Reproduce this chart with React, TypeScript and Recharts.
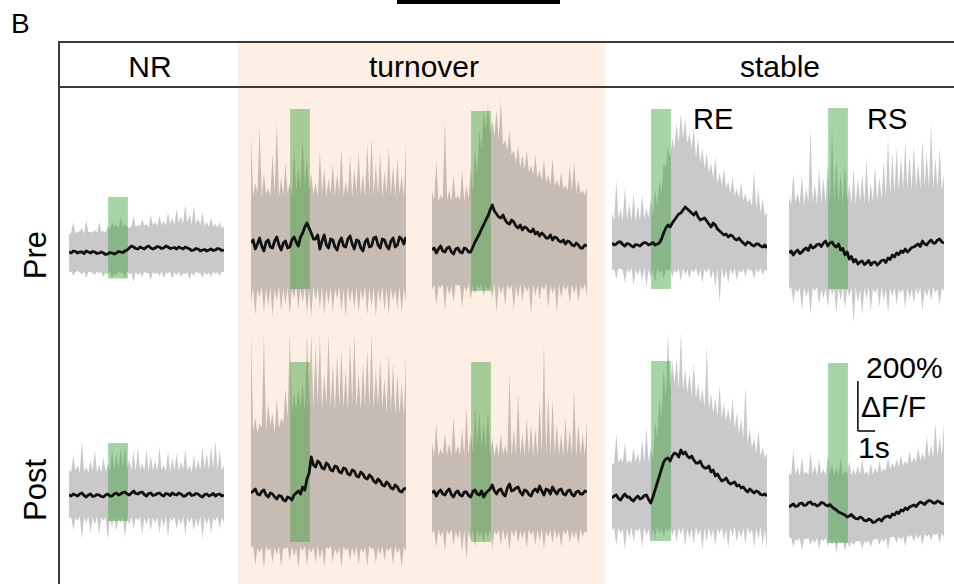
import React from "react";
import { ComposedChart, Area, Line, XAxis, YAxis, ReferenceArea, ReferenceLine } from "recharts";

// sample times (s)
const TIME = [0,0.125,0.25,0.375,0.5,0.625,0.75,0.875,1,1.125,1.25,1.375,1.5,1.625,1.75,1.875,2,2.125,2.25,2.375,2.5,2.625,2.75,2.875,3,3.125,3.25,3.375,3.5,3.625,3.75,3.875,4,4.125,4.25,4.375,4.5,4.625,4.75,4.875,5,5.125,5.25,5.375,5.5,5.625,5.75,5.875,6,6.125,6.25,6.375,6.5,6.625,6.75,6.875,7,7.125,7.25,7.375,7.5,7.625,7.75,7.875,8,8.125,8.25,8.375,8.5,8.625,8.75,8.875,9];

// stimulus window (s)
const STIM = [2.27, 3.42];
// stimulus bar extents (% dF/F) per panel: NR, turnover A, turnover B, RE, RS (Pre then Post)
const STIM_TOP = [220,536,556,536,580,208,524,524,548,576];
const STIM_BOTTOM = [-106,-184,-164,-184,-144,-104,-196,-196,-172,-144];

// scale bar: 1 s, 200 % dF/F
const SCALE_T = [4, 5];
const SCALE_Y = [304, 504];

// ---- Pre ----
const nrPreMean = [0,-4,4,2,-4,0,0,-6,4,0,-4,2,0,-6,-4,0,-4,-10,-8,-2,-4,-8,-4,2,0,-2,4,8,16,24,20,14,12,20,16,12,20,24,16,12,16,22,20,14,16,24,20,14,16,18,12,20,16,12,20,16,12,6,8,14,12,4,8,10,4,8,12,6,8,14,12,6,8];
const nrPreHi = [72,78,120,76,80,84,96,74,128,80,80,78,88,76,120,82,84,78,104,88,120,100,108,96,136,104,112,100,96,104,144,100,108,104,132,106,112,100,148,108,120,104,144,110,124,106,160,112,136,108,176,116,144,112,192,118,152,110,184,112,136,108,160,104,120,100,136,102,112,98,120,94,104];
const nrPreLo = [-80,-78,-96,-80,-76,-82,-88,-78,-104,-80,-80,-84,-92,-78,-84,-80,-100,-82,-88,-78,-108,-84,-96,-80,-84,-82,-104,-78,-88,-84,-120,-80,-92,-82,-100,-78,-84,-84,-112,-80,-88,-82,-96,-78,-104,-84,-84,-80,-108,-82,-92,-78,-100,-84,-88,-80,-112,-82,-96,-78,-84,-84,-104,-80,-92,-82,-100,-78,-88,-80,-96,-78,-80];

const toPreAMean = [0,12,-24,-4,20,-12,-32,4,12,-16,-20,8,24,-8,-28,0,8,-20,-16,12,24,4,-12,24,40,64,80,60,40,16,16,32,-24,8,32,-8,-20,16,12,-16,-28,4,20,-12,-16,16,28,-4,-24,12,8,-20,-32,4,16,-16,-12,20,24,-8,-20,16,12,-12,-24,8,20,-16,-8,24,16,-4,24];
const toPreAHi = [440,190,240,200,472,184,280,196,220,188,360,200,480,184,260,192,320,200,240,186,380,210,300,220,424,230,340,210,280,196,240,188,364,200,300,184,260,196,320,190,280,200,380,186,248,194,352,184,300,200,368,190,280,186,400,198,424,188,320,196,360,184,288,200,384,190,312,186,340,196,272,188,400];
const toPreALo = [-240,-176,-288,-184,-220,-172,-280,-180,-256,-176,-296,-184,-232,-172,-272,-180,-248,-176,-288,-184,-224,-172,-264,-180,-240,-176,-280,-184,-296,-172,-232,-180,-264,-176,-288,-184,-248,-172,-280,-180,-224,-176,-272,-184,-296,-172,-240,-180,-264,-176,-280,-184,-232,-172,-288,-180,-256,-176,-296,-184,-240,-172,-272,-180,-288,-176,-232,-184,-264,-172,-280,-180,-240];

const toPreBMean = [0,8,-12,4,16,-4,-8,8,12,-8,-16,4,8,-8,-12,8,4,-8,-8,12,32,48,64,84,100,120,136,160,180,156,144,132,128,140,120,108,104,120,112,96,88,100,80,92,88,76,72,84,64,72,56,68,60,48,48,60,40,52,48,36,32,40,24,36,32,20,16,28,20,8,8,20,16];
const toPreBHi = [240,200,360,196,220,204,520,200,240,196,300,204,220,200,320,196,260,204,340,220,400,300,480,400,560,480,580,470,520,460,560,440,600,420,440,400,480,380,400,350,420,330,380,320,400,310,340,300,380,290,320,280,360,270,300,260,368,256,280,250,312,246,260,240,340,236,352,230,280,226,240,220,248];
const toPreBLo = [-160,-140,-220,-144,-152,-136,-240,-140,-180,-144,-208,-136,-144,-140,-232,-144,-168,-136,-200,-140,-176,-144,-152,-136,-184,-140,-160,-144,-192,-136,-248,-140,-176,-144,-224,-136,-160,-140,-240,-144,-192,-136,-208,-140,-168,-144,-256,-136,-184,-140,-200,-144,-160,-136,-232,-140,-176,-144,-248,-136,-192,-140,-160,-144,-216,-136,-176,-140,-208,-144,-160,-136,-184];

const rePreMean = [0,-8,-4,4,4,-6,-12,-2,-4,-12,-16,-6,-8,-12,-4,2,0,-8,-4,2,-8,-4,0,16,40,60,72,64,80,92,104,116,120,132,144,136,128,120,112,124,104,92,96,100,88,76,64,80,72,56,48,40,32,36,24,32,28,16,12,20,8,0,-8,4,0,-8,-12,-4,-4,-12,-16,-8,-20];
const rePreHi = [120,90,252,96,140,88,224,94,160,90,200,86,152,92,192,96,140,100,180,110,220,140,248,200,320,300,380,340,420,380,480,400,520,420,500,400,440,380,460,340,420,320,380,300,360,280,320,260,344,240,280,230,300,220,248,200,264,190,220,180,240,170,200,160,180,150,288,140,220,120,180,110,120];
const rePreLo = [-112,-104,-144,-100,-104,-108,-160,-104,-120,-100,-168,-108,-128,-104,-152,-100,-176,-108,-136,-104,-160,-100,-120,-108,-144,-104,-112,-100,-136,-108,-120,-104,-152,-100,-128,-108,-144,-104,-120,-100,-136,-108,-160,-104,-120,-100,-144,-108,-176,-104,-240,-100,-144,-108,-160,-104,-128,-100,-152,-108,-120,-104,-136,-100,-112,-108,-144,-104,-120,-100,-128,-108,-112];

const rsPreMean = [0,8,-8,4,12,-2,4,14,20,10,32,20,24,34,36,26,40,48,28,40,44,30,24,36,12,18,-8,4,-24,-14,-36,-26,-44,-36,-32,-46,-40,-30,-48,-38,-36,-48,-40,-30,-28,-38,-20,-26,-8,-16,0,-6,8,2,16,4,12,22,24,30,36,26,48,36,32,44,52,40,40,52,56,44,40];
const rsPreHi = [220,196,320,204,240,200,312,192,260,204,500,200,280,196,340,204,300,200,360,196,500,204,380,200,320,196,360,204,280,200,340,196,300,204,320,200,380,196,280,204,352,210,304,216,368,224,464,230,400,240,420,248,384,256,448,260,392,256,432,264,360,260,452,268,400,260,520,264,380,256,420,250,320];
const rsPreLo = [-144,-136,-200,-144,-160,-140,-232,-136,-176,-144,-248,-140,-152,-136,-208,-144,-184,-140,-220,-136,-168,-144,-240,-140,-192,-136,-224,-144,-176,-140,-280,-136,-200,-144,-248,-140,-184,-136,-232,-144,-160,-140,-216,-136,-192,-144,-240,-140,-176,-136,-208,-144,-160,-140,-224,-136,-184,-144,-200,-140,-168,-136,-232,-144,-176,-140,-192,-136,-160,-144,-208,-140,-152];

// ---- Post ----
const nrPostMean = [0,-4,4,0,-4,4,8,-2,-8,0,4,-6,-4,2,0,-6,-8,0,4,-4,-4,4,8,0,4,10,12,4,0,8,16,6,4,10,12,2,-4,6,8,-2,0,6,8,0,-4,6,4,-2,8,2,0,8,4,-4,-4,4,8,-2,0,6,4,-4,-8,2,4,-4,0,6,-4,2,4,-4,0];
const nrPostHi = [100,92,160,96,120,88,220,94,112,90,140,96,180,92,120,88,152,94,128,96,180,100,168,104,192,110,200,104,144,98,176,94,192,100,128,96,184,92,160,98,140,94,192,100,120,96,176,92,152,98,168,94,136,100,184,96,120,92,160,98,144,100,192,104,168,100,200,106,220,100,180,96,120];
const nrPostLo = [-96,-88,-140,-92,-104,-86,-176,-90,-112,-88,-152,-92,-120,-86,-160,-90,-104,-88,-180,-92,-128,-86,-144,-90,-112,-88,-168,-92,-120,-86,-136,-90,-104,-88,-160,-92,-120,-86,-144,-90,-112,-88,-152,-92,-128,-86,-168,-90,-104,-88,-136,-92,-120,-86,-160,-90,-112,-88,-144,-92,-128,-86,-176,-90,-120,-88,-152,-92,-104,-86,-136,-90,-112];

const toPostAMean = [0,8,16,-4,-8,6,12,-8,-16,0,-4,-16,-24,-10,-12,-28,-32,-16,-20,-28,-8,0,8,-4,24,12,56,80,144,112,104,128,120,100,96,120,112,92,88,108,104,84,80,100,96,76,72,92,88,68,64,84,76,60,56,72,64,48,40,56,48,32,28,44,36,20,16,32,24,8,4,16,20];
const toPostAHi = [640,250,300,240,280,260,640,250,360,270,320,240,380,260,300,280,420,300,640,320,400,330,420,340,440,320,640,360,640,340,600,360,632,330,480,350,640,340,520,330,560,350,580,340,500,330,600,360,632,340,480,330,520,350,580,340,640,330,500,350,540,340,460,320,560,330,520,310,480,320,440,310,540];
const toPostALo = [-220,-212,-288,-220,-240,-216,-300,-212,-232,-220,-280,-216,-248,-212,-296,-220,-224,-216,-272,-212,-256,-220,-300,-216,-232,-212,-288,-220,-240,-216,-280,-212,-264,-220,-296,-216,-224,-212,-280,-220,-248,-216,-300,-212,-232,-220,-272,-216,-256,-212,-288,-220,-240,-216,-296,-212,-224,-220,-280,-216,-248,-212,-272,-220,-232,-216,-288,-212,-240,-220,-300,-216,-232];

const toPostBMean = [0,8,-12,4,12,-4,-8,8,16,-6,-16,2,8,-8,-12,4,4,-10,-16,6,12,-4,-8,8,-16,0,8,16,32,8,-4,12,16,-4,-12,20,36,8,12,20,24,4,-8,12,8,-6,-12,8,16,4,28,8,-8,16,12,-4,24,8,-4,12,16,-4,-8,8,12,-6,-12,4,8,-4,-4,8,4];
const toPostBHi = [200,150,280,146,180,154,240,150,200,146,304,154,192,150,260,146,340,154,240,160,344,200,328,180,280,170,336,160,220,150,200,146,240,154,192,150,480,146,260,154,404,150,240,146,300,154,280,150,260,146,380,154,600,150,400,146,380,154,280,150,240,146,300,154,260,150,412,146,280,154,240,150,292];
const toPostBLo = [-160,-148,-220,-144,-176,-152,-232,-148,-168,-144,-208,-152,-184,-148,-240,-144,-268,-152,-192,-148,-216,-144,-176,-152,-200,-148,-184,-144,-224,-152,-168,-148,-208,-144,-192,-152,-232,-148,-176,-144,-200,-152,-184,-148,-220,-144,-168,-152,-208,-148,-192,-144,-224,-152,-176,-148,-200,-144,-184,-152,-216,-148,-168,-144,-200,-152,-184,-148,-208,-144,-176,-152,-160];

const rePostMean = [0,8,12,-2,-8,6,16,4,4,-6,-12,0,8,-4,0,10,12,-6,-20,4,32,60,88,116,144,156,160,148,168,180,176,164,192,176,184,168,160,168,152,140,140,148,128,120,120,128,104,112,88,96,80,68,72,80,64,56,60,64,48,52,40,44,32,24,36,28,20,28,24,14,12,16,8];
const rePostHi = [140,136,260,140,160,144,220,136,152,140,200,144,180,136,240,140,284,144,200,160,312,240,400,320,520,400,664,440,552,460,560,440,664,430,520,420,500,410,540,400,460,380,440,360,604,350,420,340,400,330,448,320,380,310,360,300,400,280,340,260,320,240,452,220,280,200,240,180,272,170,200,160,180];
const rePostLo = [-128,-120,-192,-116,-144,-124,-208,-120,-160,-116,-176,-124,-136,-120,-200,-116,-152,-124,-184,-120,-168,-116,-144,-124,-160,-120,-136,-116,-152,-124,-176,-120,-144,-116,-192,-124,-160,-120,-184,-116,-152,-124,-208,-120,-176,-116,-160,-124,-192,-120,-144,-116,-168,-124,-200,-120,-152,-116,-176,-124,-160,-120,-184,-116,-144,-124,-200,-120,-168,-116,-192,-124,-208];

const rsPostMean = [0,6,12,2,4,14,16,6,8,18,20,10,12,4,8,18,16,8,4,10,0,-6,-12,-20,-24,-28,-32,-40,-36,-30,-40,-46,-48,-40,-44,-54,-56,-48,-52,-62,-60,-52,-48,-56,-44,-38,-36,-42,-28,-32,-20,-26,-12,-16,-4,-10,0,4,8,2,12,20,16,10,20,26,24,16,16,24,20,14,12];
const rsPostHi = [136,128,228,132,160,126,200,130,144,128,220,132,168,126,192,130,152,128,208,132,176,126,160,130,200,128,144,132,184,126,152,130,168,128,192,132,144,126,176,130,160,134,184,140,152,146,200,150,176,156,192,160,208,166,184,170,224,176,200,180,240,186,216,190,288,196,248,200,336,204,280,206,336];
const rsPostLo = [-120,-124,-160,-128,-136,-124,-176,-128,-128,-124,-152,-128,-144,-124,-168,-128,-136,-124,-160,-128,-152,-130,-184,-134,-144,-136,-176,-138,-160,-140,-152,-140,-136,-138,-168,-136,-144,-134,-160,-132,-128,-128,-152,-126,-140,-124,-168,-122,-120,-120,-144,-118,-132,-116,-160,-114,-120,-112,-140,-110,-128,-110,-152,-108,-120,-108,-136,-106,-112,-106,-144,-104,-120];

// ---- layout (pixels) ----
const COL_LEFT = [69, 251, 432, 612, 789];
const ROW_BASE = [[252, 243, 250, 243, 253], [495, 493, 493, 498, 507]];
const PW = 155;
const PH = 250;
const Y_DOMAIN: [number, number] = [-320, 680];
const PX_PER_UNIT = PH / (Y_DOMAIN[1] - Y_DOMAIN[0]);

const SERIES = [
  [nrPreMean, nrPreHi, nrPreLo],
  [toPreAMean, toPreAHi, toPreALo],
  [toPreBMean, toPreBHi, toPreBLo],
  [rePreMean, rePreHi, rePreLo],
  [rsPreMean, rsPreHi, rsPreLo],
  [nrPostMean, nrPostHi, nrPostLo],
  [toPostAMean, toPostAHi, toPostALo],
  [toPostBMean, toPostBHi, toPostBLo],
  [rePostMean, rePostHi, rePostLo],
  [rsPostMean, rsPostHi, rsPostLo],
];

const FONT = "'Liberation Sans', Arial, Helvetica, sans-serif";

function Panel({ idx }: { idx: number }) {
  const row = Math.floor(idx / 5);
  const col = idx % 5;
  const [mean, hi, lo] = SERIES[idx];
  const n = Math.min(TIME.length, mean.length, hi.length, lo.length);
  const data = TIME.slice(0, n).map((t, i) => ({ t, mean: mean[i], band: [lo[i], hi[i]] }));
  const base = ROW_BASE[row][col];
  const top = base - Y_DOMAIN[1] * PX_PER_UNIT;
  const showScale = idx === 9;
  return (
    <div style={{ position: "absolute", left: COL_LEFT[col], top }}>
      <ComposedChart width={PW} height={PH} data={data} margin={{ top: 0, right: 0, bottom: 0, left: 0 }}>
        <XAxis dataKey="t" type="number" domain={[0, 9]} hide />
        <YAxis type="number" domain={Y_DOMAIN} hide allowDataOverflow />
        <Area
          dataKey="band"
          type="linear"
          stroke="none"
          fill="#000"
          fillOpacity={0.21}
          isAnimationActive={false}
          activeDot={false}
          dot={false}
        />
        <ReferenceArea
          x1={STIM[0]}
          x2={STIM[1]}
          y1={STIM_BOTTOM[idx]}
          y2={STIM_TOP[idx]}
          fill="rgb(60,160,60)"
          fillOpacity={0.45}
          stroke="none"
          ifOverflow="visible"
        />
        <Line
          dataKey="mean"
          type="linear"
          stroke="#111"
          strokeWidth={2.8}
          strokeLinejoin="round"
          dot={false}
          activeDot={false}
          isAnimationActive={false}
        />
        {showScale && (
          <ReferenceLine
            segment={[{ x: SCALE_T[0], y: SCALE_Y[0] }, { x: SCALE_T[0], y: SCALE_Y[1] }]}
            stroke="#000"
            strokeWidth={1.5}
            ifOverflow="visible"
          />
        )}
        {showScale && (
          <ReferenceLine
            segment={[{ x: SCALE_T[0], y: SCALE_Y[0] }, { x: SCALE_T[1], y: SCALE_Y[0] }]}
            stroke="#000"
            strokeWidth={1.5}
            ifOverflow="visible"
          />
        )}
      </ComposedChart>
    </div>
  );
}

export default function App() {
  const panels = Array.from({ length: 10 }, (_, i) => i);
  return (
    <div style={{ position: "absolute", left: 0, top: 0, width: 954, height: 584, overflow: "hidden", background: "#fff", fontFamily: FONT }}>
      <svg width={954} height={584} style={{ position: "absolute", left: 0, top: 0 }}>
        <rect x={238} y={42} width={367} height={542} fill="rgb(253,239,228)" />
      </svg>
      {panels.map((i) => (
        <Panel key={i} idx={i} />
      ))}
      <svg width={954} height={584} style={{ position: "absolute", left: 0, top: 0, pointerEvents: "none" }}>
        <rect x={397} y={0} width={163} height={4} fill="#000" />
        <text x={11} y={33} fontSize={28} fontFamily={FONT} fill="#000">B</text>
        <line x1={59} y1={42} x2={954} y2={42} stroke="#3a3a3a" strokeWidth={2} />
        <line x1={59} y1={87} x2={954} y2={87} stroke="#3a3a3a" strokeWidth={2} />
        <line x1={59} y1={41} x2={59} y2={584} stroke="#3a3a3a" strokeWidth={2} />
        <text x={150} y={77} fontSize={30} fontFamily={FONT} textAnchor="middle" fill="#000">NR</text>
        <text x={424} y={77} fontSize={30} fontFamily={FONT} textAnchor="middle" fill="#000">turnover</text>
        <text x={780} y={77} fontSize={30} fontFamily={FONT} textAnchor="middle" fill="#000">stable</text>
        <text x={46} y={255} fontSize={31} fontFamily={FONT} textAnchor="middle" fill="#000" transform="rotate(-90 46 255)">Pre</text>
        <text x={46} y={490} fontSize={31} fontFamily={FONT} textAnchor="middle" fill="#000" transform="rotate(-90 46 490)">Post</text>
        <text x={693} y={129} fontSize={29} fontFamily={FONT} fill="#000">RE</text>
        <text x={867} y={129} fontSize={29} fontFamily={FONT} fill="#000">RS</text>
        <text x={866} y={378} fontSize={30} fontFamily={FONT} fill="#000">200%</text>
        <text x={861} y={417} fontSize={30} fontFamily={FONT} fill="#000">ΔF/F</text>
        <text x={858} y={458} fontSize={30} fontFamily={FONT} fill="#000">1s</text>
      </svg>
    </div>
  );
}
